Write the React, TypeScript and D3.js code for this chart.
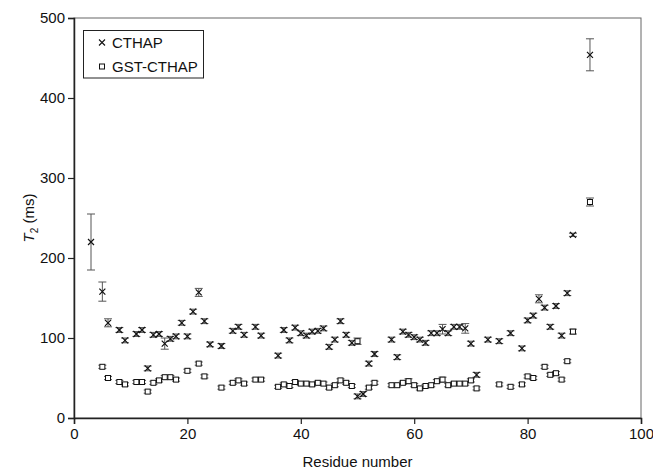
import React, { useEffect, useRef } from "react";
import * as d3 from "d3";

// CTHAP (crosses)
const cthapResidue = [3, 5, 6, 8, 9, 11, 12, 13, 14, 15, 16, 17, 18, 19, 20, 21, 22, 23, 24, 26, 28, 29, 30, 32, 33, 36, 37, 38, 39, 40, 41, 42, 43, 44, 45, 46, 47, 48, 49, 50, 51, 52, 53, 56, 57, 58, 59, 60, 61, 62, 63, 64, 65, 66, 67, 68, 69, 70, 71, 73, 75, 77, 79, 80, 81, 82, 83, 84, 85, 86, 87, 88, 91];
const cthapT2 = [220, 158, 119, 110, 97, 105, 110, 62, 104, 105, 93, 99, 102, 119, 102, 133, 157, 121, 92, 90, 109, 114, 104, 114, 103, 78, 110, 97, 113, 106, 103, 108, 109, 112, 89, 98, 121, 104, 94, 27, 30, 68, 80, 98, 76, 108, 104, 101, 98, 94, 106, 106, 111, 106, 114, 114, 112, 93, 54, 98, 96, 106, 87, 122, 128, 149, 138, 114, 140, 103, 156, 229, 454];
const cthapErr = [35, 12, 5, 3, 3, 3, 3, 3, 3, 3, 7, 3, 3, 3, 3, 3, 5, 3, 3, 3, 3, 3, 3, 3, 3, 3, 3, 3, 3, 3, 3, 3, 3, 3, 3, 3, 3, 3, 3, 3, 3, 3, 3, 3, 3, 3, 3, 3, 3, 3, 3, 3, 6, 3, 3, 3, 6, 3, 3, 3, 3, 3, 3, 3, 3, 5, 3, 3, 3, 3, 3, 2, 20];

// GST-CTHAP (squares)
const gstResidue = [5, 6, 8, 9, 11, 12, 13, 14, 15, 16, 17, 18, 20, 22, 23, 26, 28, 29, 30, 32, 33, 36, 37, 38, 39, 40, 41, 42, 43, 44, 45, 46, 47, 48, 49, 50, 52, 53, 56, 57, 58, 59, 60, 61, 62, 63, 64, 65, 66, 67, 68, 69, 70, 71, 75, 77, 79, 80, 81, 83, 84, 85, 86, 87, 88, 91];
const gstT2 = [64, 50, 45, 42, 45, 45, 33, 44, 47, 51, 51, 48, 59, 68, 52, 38, 44, 47, 43, 48, 48, 39, 42, 40, 45, 43, 43, 42, 44, 43, 38, 41, 47, 44, 40, 96, 38, 44, 41, 41, 44, 46, 41, 37, 40, 41, 46, 48, 41, 43, 43, 43, 47, 37, 42, 39, 42, 52, 50, 64, 54, 56, 48, 71, 108, 270];
const gstErr = [2, 2, 2, 2, 2, 2, 2, 2, 2, 2, 2, 2, 2, 2, 2, 2, 2, 2, 2, 2, 2, 2, 2, 2, 2, 2, 2, 2, 2, 2, 2, 2, 2, 2, 2, 4, 2, 2, 2, 2, 2, 3, 2, 2, 2, 2, 2, 3, 2, 2, 2, 2, 2, 2, 2, 2, 2, 2, 2, 2, 2, 2, 2, 2, 3, 5];

const xTicks = [0, 20, 40, 60, 80, 100];
const yTicks = [0, 100, 200, 300, 400, 500];

const App = () => {
  const ref = useRef<SVGSVGElement | null>(null);

  useEffect(() => {
    const width = 653;
    const height = 472;
    const margin = { left: 74, right: 12, top: 18, bottom: 54 };
    const font = "Liberation Sans, Arial, sans-serif";

    const svg = d3.select(ref.current);
    svg.selectAll("*").remove();

    const x = d3.scaleLinear().domain([0, 100]).range([margin.left, width - margin.right]);
    const y = d3.scaleLinear().domain([0, 500]).range([height - margin.bottom, margin.top]);

    // frame
    svg.append("rect")
      .attr("x", x(0))
      .attr("y", y(500))
      .attr("width", x(100) - x(0))
      .attr("height", y(0) - y(500))
      .attr("fill", "none")
      .attr("stroke", "#666")
      .attr("stroke-width", 1);

    const xAxis = svg.append("g")
      .attr("transform", `translate(0,${y(0)})`)
      .call(d3.axisBottom(x).tickValues(xTicks).tickSize(6).tickPadding(4));
    const yAxis = svg.append("g")
      .attr("transform", `translate(${x(0)},0)`)
      .call(d3.axisLeft(y).tickValues(yTicks).tickSize(6).tickPadding(3));

    [xAxis, yAxis].forEach(g => {
      g.select(".domain").attr("stroke", "#222").attr("stroke-width", 1.5);
      g.selectAll(".tick line").attr("stroke", "#222").attr("stroke-width", 1.2);
      g.selectAll(".tick text")
        .attr("fill", "#111")
        .style("font-family", font)
        .style("font-size", "15px");
    });

    svg.append("text")
      .attr("x", (x(0) + x(100)) / 2)
      .attr("y", 467)
      .attr("text-anchor", "middle")
      .style("font-family", font)
      .style("font-size", "15px")
      .attr("fill", "#111")
      .text("Residue number");

    const yl = svg.append("text")
      .attr("transform", `translate(34,${(y(0) + y(500)) / 2}) rotate(-90)`)
      .attr("text-anchor", "middle")
      .style("font-family", font)
      .style("font-size", "15px")
      .attr("fill", "#111");
    yl.append("tspan").style("font-style", "italic").text("T");
    yl.append("tspan").attr("dy", 4).style("font-size", "10px").text("2");
    yl.append("tspan").attr("dy", -4).text(" (ms)");

    const cthap = cthapResidue.map((r, i) => ({ r, v: cthapT2[i], e: cthapErr[i] }));
    const gst = gstResidue.map((r, i) => ({ r, v: gstT2[i], e: gstErr[i] }));

    const drawErr = (data) => {
      const g = svg.append("g").attr("stroke", "#555").attr("stroke-width", 1).attr("fill", "none");
      data.forEach(d => {
        const cx = x(d.r);
        const y1 = y(d.v + d.e);
        const y2 = y(d.v - d.e);
        g.append("line").attr("x1", cx).attr("x2", cx).attr("y1", y1).attr("y2", y2);
        g.append("line").attr("x1", cx - 4).attr("x2", cx + 4).attr("y1", y1).attr("y2", y1);
        g.append("line").attr("x1", cx - 4).attr("x2", cx + 4).attr("y1", y2).attr("y2", y2);
      });
    };
    drawErr(cthap);
    drawErr(gst);

    const cross = (g, cx, cy, s) => {
      g.append("path")
        .attr("d", `M${cx - s},${cy - s}L${cx + s},${cy + s}M${cx - s},${cy + s}L${cx + s},${cy - s}`);
    };

    const cg = svg.append("g").attr("stroke", "#111").attr("stroke-width", 1.2).attr("fill", "none");
    cthap.forEach(d => cross(cg, x(d.r), y(d.v), 3));

    svg.append("g")
      .selectAll("rect")
      .data(gst)
      .join("rect")
      .attr("x", d => x(d.r) - 2.5)
      .attr("y", d => y(d.v) - 2.5)
      .attr("width", 5)
      .attr("height", 5)
      .attr("fill", "white")
      .attr("stroke", "#111")
      .attr("stroke-width", 1);

    // legend
    const lg = svg.append("g");
    lg.append("rect")
      .attr("x", 83.5).attr("y", 30.5).attr("width", 120).attr("height", 47.5)
      .attr("fill", "white").attr("stroke", "#222").attr("stroke-width", 1);
    const lc = lg.append("g").attr("stroke", "#111").attr("stroke-width", 1.1).attr("fill", "none");
    cross(lc, 102, 42.5, 3);
    lg.append("rect")
      .attr("x", 99.5).attr("y", 64).attr("width", 5).attr("height", 5)
      .attr("fill", "white").attr("stroke", "#111");
    lg.selectAll("text.leg")
      .data(["CTHAP", "GST-CTHAP"])
      .join("text")
      .attr("x", 112)
      .attr("y", (d, i) => 48 + i * 24)
      .style("font-family", font)
      .style("font-size", "15px")
      .attr("fill", "#111")
      .text(d => d);
  }, []);

  return (
    <svg
      ref={ref}
      width={653}
      height={472}
      style={{ position: "absolute", left: 0, top: 0, background: "white" }}
    />
  );
};

export default App;
